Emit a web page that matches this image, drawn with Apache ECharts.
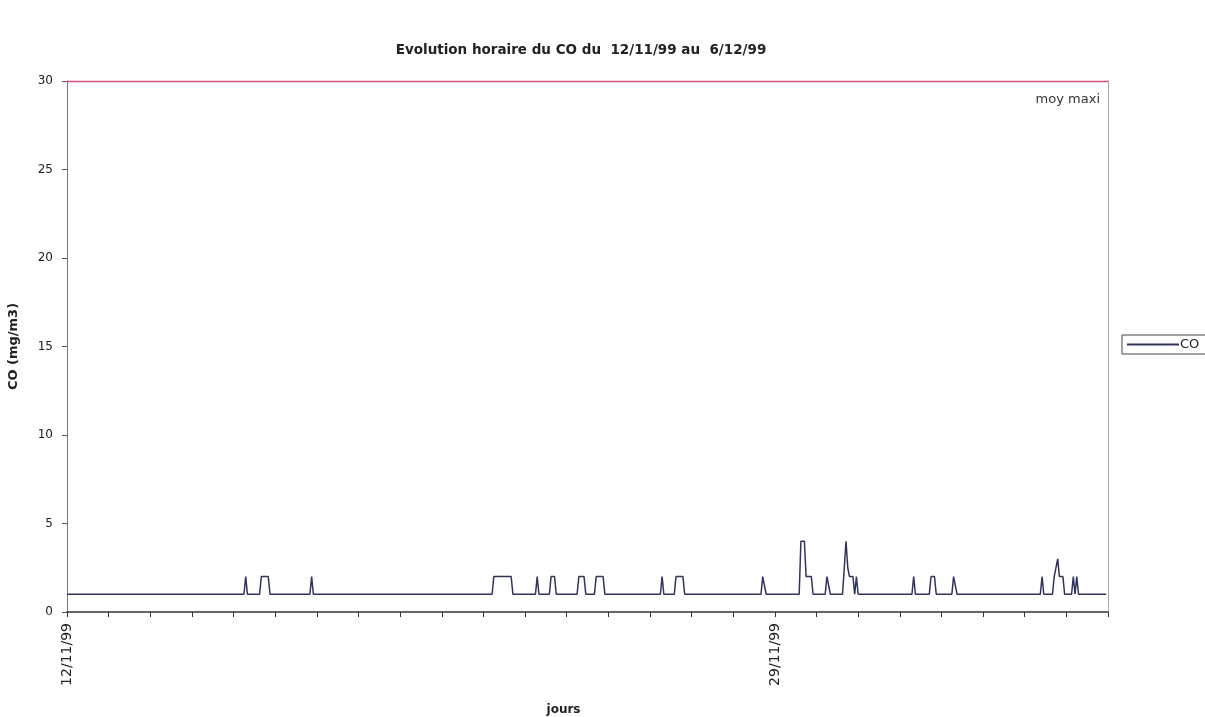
<!DOCTYPE html>
<html>
<head>
<meta charset="utf-8">
<title>Evolution horaire du CO</title>
<script src="https://cdn.jsdelivr.net/npm/echarts@6/dist/echarts.min.js"></script>
<style>
html, body { margin: 0; padding: 0; background: #fff; }
#chart { width: 1205px; height: 717px; }
</style>
</head>
<body>
<div id="chart"></div>
<script>
// hours since 12/11/99 00:00 and CO values (mg/m3) at each change point
var coHours = [0, 102, 103, 104, 111, 112, 116, 117, 140, 141, 142,
    245, 246, 256, 257, 270, 271, 272, 278, 279, 281, 282,
    294, 295, 298, 299, 304, 305, 309, 310, 342, 343, 344,
    350, 351, 355, 356, 400, 401, 402, 403,
    422, 423, 425, 426, 429, 430, 437, 438, 439, 440,
    447, 449, 450, 451, 453, 454, 455, 456,
    487, 488, 489, 497, 498, 500, 501, 510, 511, 512, 513,
    561, 562, 563, 568, 569, 570, 571, 572, 574, 575,
    579, 580, 581, 582, 583, 599];
var coValues = [1, 1, 2, 1, 1, 2, 2, 1, 1, 2, 1,
    1, 2, 2, 1, 1, 2, 1, 1, 2, 2, 1,
    1, 2, 2, 1, 1, 2, 2, 1, 1, 2, 1,
    1, 2, 2, 1, 1, 2, 2, 1,
    1, 4, 4, 2, 2, 1, 1, 2, 2, 1,
    1, 4, 2.5, 2, 2, 1, 2, 1,
    1, 2, 1, 1, 2, 2, 1, 1, 2, 2, 1,
    1, 2, 1, 1, 2, 2, 3, 2, 2, 1,
    1, 2, 1, 2, 1, 1];
var moyMaxi = 30;
var dayLabels = { 0: '12/11/99', 408: '29/11/99' };

var chart = echarts.init(document.getElementById('chart'));
var coData = [];
for (var i = 0; i < coHours.length; i++) {
    coData.push([coHours[i], coValues[i]]);
}

var font = 'DejaVu Sans, Liberation Sans, sans-serif';

var option = {
    animation: false,
    textStyle: { fontFamily: font },
    title: {
        text: 'Evolution horaire du CO du  12/11/99 au  6/12/99',
        left: 576,
        textAlign: 'center',
        top: 38,
        textStyle: { fontSize: 13.5, fontWeight: 'bold', color: '#222', fontFamily: font }
    },
    legend: {
        data: ['CO'],
        left: 1122,
        top: 335,
        orient: 'vertical',
        borderColor: '#444',
        borderWidth: 1,
        borderRadius: 0,
        padding: [3, 12, 3, 5],
        itemWidth: 52,
        itemHeight: 2,
        icon: 'rect',
        textStyle: { fontSize: 13, color: '#222', fontFamily: font, padding: [0, 0, 0, -4] }
    },
    grid: { left: 67, right: 97, top: 81, bottom: 105, outerBoundsMode: 'none' },
    xAxis: {
        type: 'value',
        min: 0,
        max: 600,
        interval: 24,
        name: 'jours',
        nameLocation: 'middle',
        nameGap: 92,
        nameTextStyle: { fontSize: 12, fontWeight: 'bold', color: '#222', padding: [0, 48, 0, 0] },
        axisLine: { lineStyle: { color: '#333', width: 1.5 } },
        axisTick: { length: 5, lineStyle: { color: '#333' } },
        splitLine: { show: false },
        axisLabel: {
            rotate: 90,
            margin: 11,
            fontSize: 14,
            color: '#222',
            showMinLabel: true,
            formatter: function (v) { return dayLabels[v] || ''; }
        }
    },
    yAxis: [{
        type: 'value',
        min: 0,
        max: 30,
        interval: 5,
        name: 'CO (mg/m3)',
        nameLocation: 'middle',
        nameGap: 47,
        nameTextStyle: { fontSize: 13, fontWeight: 'bold', color: '#222' },
        axisLine: { show: true, lineStyle: { color: '#777' } },
        axisTick: { show: true, length: 5, lineStyle: { color: '#555' } },
        splitLine: { show: false },
        axisLabel: { fontSize: 12, color: '#222', margin: 14 }
    }, {
        type: 'value',
        position: 'right',
        min: 0,
        max: 30,
        interval: 5,
        axisLine: { show: true, lineStyle: { color: '#999', type: 'dotted' } },
        axisTick: { show: false },
        axisLabel: { show: false },
        splitLine: { show: false }
    }],
    series: [{
        name: 'CO',
        type: 'line',
        data: coData,
        symbol: 'none',
        z: 3,
        lineStyle: { color: '#30345c', width: 1.5 },
        itemStyle: { color: '#30345c' }
    }, {
        name: 'moy maxi',
        type: 'line',
        data: [],
        z: 4,
        markLine: {
            symbol: 'none',
            silent: true,
            data: [{ yAxis: moyMaxi }],
            lineStyle: { color: '#d8507e', type: 'solid', width: 1.3 },
            label: {
                formatter: 'moy maxi',
                position: 'insideEndBottom',
                distance: [8, 12],
                fontSize: 13,
                color: '#333',
                fontFamily: font
            }
        }
    }]
};

chart.setOption(option);
</script>
</body>
</html>
